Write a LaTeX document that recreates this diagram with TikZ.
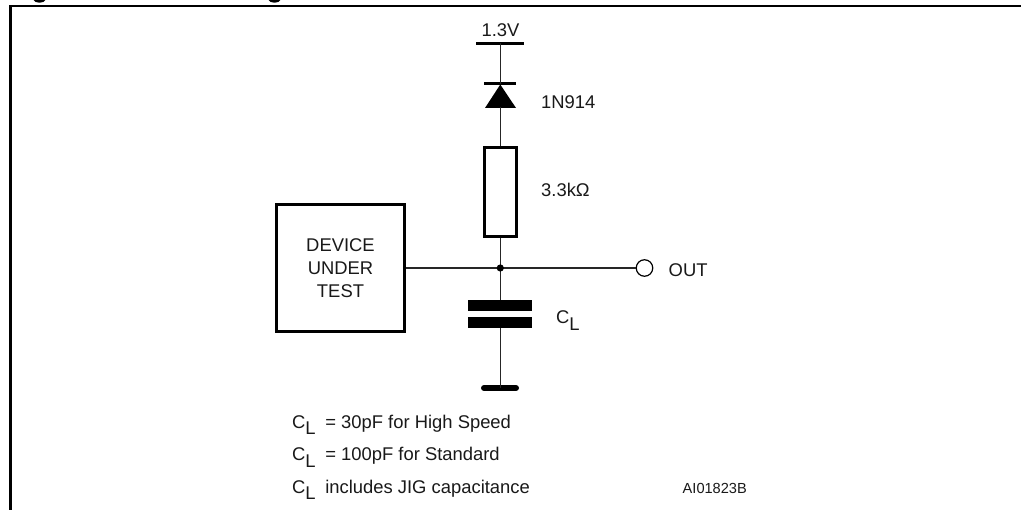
\documentclass[tikz,border=0pt]{standalone}
\usepackage{fontspec}
\setmainfont{Liberation Sans}
\begin{document}
\begin{tikzpicture}[x=1pt,y=-1pt,
  wire/.style={line width=1.4pt,draw=black!85},
  thick box/.style={draw=black,line width=3pt,fill=white,inner sep=0pt},
  bar/.style={draw=none,fill=black,inner sep=0pt,anchor=north west},
  label/.style={font=\fontsize{18.4}{22}\selectfont,inner sep=0pt,anchor=base west,text=black!90}]
\useasboundingbox (0,0) rectangle (1021,510);
\fill[white] (0,0) rectangle (1021,510);
% frame and the cut-off title descenders
\draw[line width=2.2pt] (10.5,510) -- (10.5,6) -- (1021,6);
\fill (33.5,0) .. controls (35,3.6) and (44,3.6) .. (45.5,0) -- cycle;
\fill (268.5,0) .. controls (270,3.6) and (279,3.6) .. (280.5,0) -- cycle;
% supply rail
\coordinate (vcc) at (500.3,43.5);
\draw[line width=3.2pt] (476,43.5) -- (524,43.5);
\node[label,anchor=base] (v) at (500.5,36.5) {1.3V};
% diode
\node[bar,minimum width=32pt,minimum height=3pt] (dcat) at (484,82) {};
\fill (500.3,84.5) -- (485,108) -- (516,108) -- cycle;
\coordinate (dtop) at (500.3,84);
\coordinate (dbot) at (500.3,107);
\node[label] (dn) at (541,108.5) {1N914};
% resistor
\node[thick box,minimum width=32pt,minimum height=89pt] (r) at (500.5,192) {};
\node[label] (rv) at (541,196.5) {3.3kΩ};
% DUT
\node[thick box,minimum width=128pt,minimum height=127pt,align=center,
  font=\fontsize{18.4}{23}\selectfont,text=black!90] (dut) at (340.5,268) {DEVICE\\UNDER\\TEST};
% junction
\coordinate (j) at (500.3,268);
\node[circle,draw=black,line width=1.2pt,minimum size=16.5pt,inner sep=0pt,fill=white] (o) at (644.5,268) {};
\node[label] (out) at (668.5,276.5) {OUT};
% capacitor
\node[bar,minimum width=64pt,minimum height=11pt] (c1) at (468,300) {};
\node[bar,minimum width=64pt,minimum height=11pt] (c2) at (468,317) {};
\node[label] (cl) at (556,324) {C\raisebox{-0.33em}{L}};
% ground
\draw[line width=6pt,line cap=round] (484,388) -- (516,388);
\coordinate (g) at (500.3,388);
% wires
\draw[wire] (vcc) -- (dtop);
\draw[wire] (dbot) -- (dbot |- r.north);
\draw[wire] (j |- r.south) -- (j);
\draw[wire] (j) -- (j |- c1.north);
\draw[wire] (j |- c2.south) -- (g);
\draw[wire] (dut.east) -- (o.west);
\fill (j) circle (3.6pt);
% notes
\node[label] (n1) at (292,428.5) {C\raisebox{-0.33em}{L}\kern4.5pt{} = 30pF for High Speed};
\node[label] (n2) at (292,461) {C\raisebox{-0.33em}{L}\kern4.5pt{} = 100pF for Standard};
\node[label] (n3) at (292,493.5) {C\raisebox{-0.33em}{L}\kern4.5pt{} includes JIG capacitance};
\node[label,font=\fontsize{14.6}{18}\selectfont] (id) at (682.5,493.5) {AI01823B};
\end{tikzpicture}
\end{document}
